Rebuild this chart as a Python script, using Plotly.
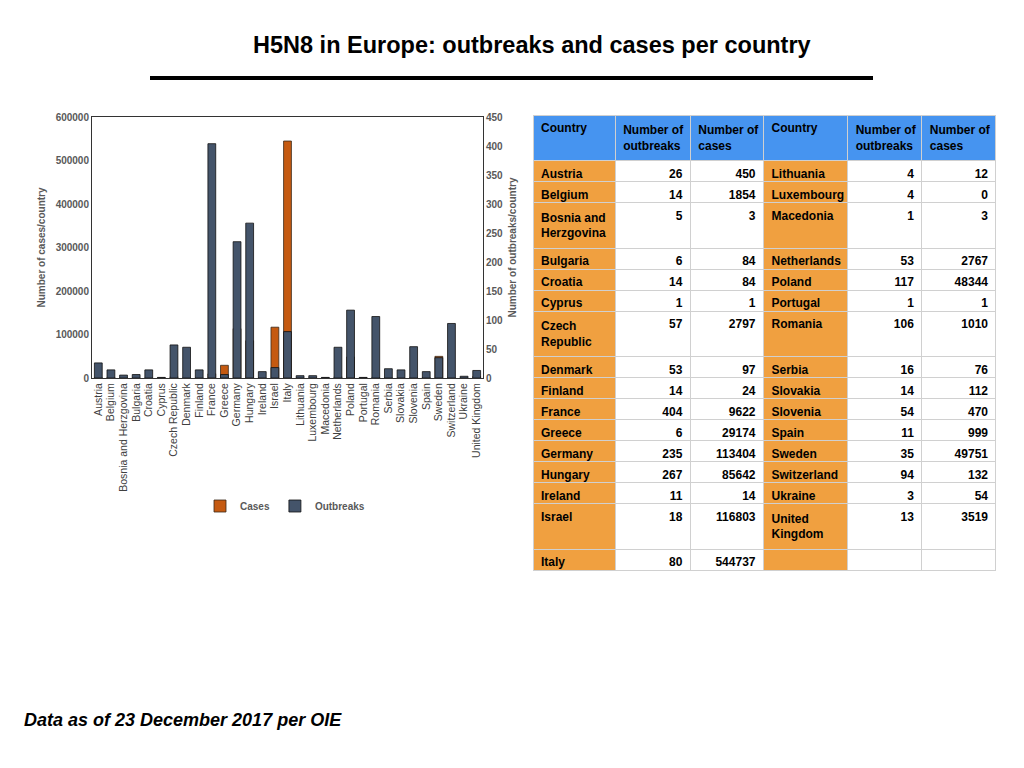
import plotly.graph_objects as go

# data (table on the right gives the exact values)
countries = ["Austria", "Belgium", "Bosnia and Herzgovina", "Bulgaria", "Croatia", "Cyprus",
             "Czech Republic", "Denmark", "Finland", "France", "Greece", "Germany", "Hungary",
             "Ireland", "Israel", "Italy", "Lithuania", "Luxembourg", "Macedonia", "Netherlands",
             "Poland", "Portugal", "Romania", "Serbia", "Slovakia", "Slovenia", "Spain", "Sweden",
             "Switzerland", "Ukraine", "United Kingdom"]
outbreaks = [26, 14, 5, 6, 14, 1, 57, 53, 14, 404, 6, 235, 267, 11, 18, 80,
             4, 4, 1, 53, 117, 1, 106, 16, 14, 54, 11, 35, 94, 3, 13]
cases = [450, 1854, 3, 84, 84, 1, 2797, 97, 24, 9622, 29174, 113404, 85642, 14, 116803, 544737,
         12, 0, 3, 2767, 48344, 1, 1010, 76, 112, 470, 999, 49751, 132, 54, 3519]

# names that wrap onto two lines in the table
wrapped = {"Bosnia and Herzgovina": "Bosnia and<br>Herzgovina",
           "Czech Republic": "Czech<br>Republic",
           "United Kingdom": "United<br>Kingdom"}

FONT = "Liberation Sans, Arial, sans-serif"
CASE_COL = "#C55A11"
OUT_COL = "#44546A"
BLUE = "#4694F0"
ORANGE = "#F0A040"
GREY = "#595959"

# the page puts the figure 8px in from the top left corner
OFF = 8


def px(x):
    return (x - OFF) / 1024


def py(y):
    return 1 - (y - OFF) / 768


fig = go.Figure()

# cases behind, outbreaks on top (secondary axis)
fig.add_trace(go.Bar(x=countries, y=cases, name="Cases", marker_color=CASE_COL,
                     marker_line=dict(color="#3a2a1a", width=0.8), width=0.62,
                     yaxis="y"))
fig.add_trace(go.Bar(x=countries, y=outbreaks, name="Outbreaks", marker_color=OUT_COL,
                     marker_line=dict(color="#111111", width=0.8), width=0.62,
                     yaxis="y2"))

# table: first 16 countries on the left, the rest on the right
half = 16
left_names = [wrapped.get(c, c) for c in countries[:half]]
right_names = [wrapped.get(c, c) for c in countries[half:]] + [""]
left_out = [str(v) for v in outbreaks[:half]]
left_cases = [str(v) for v in cases[:half]]
right_out = [str(v) for v in outbreaks[half:]] + [""]
right_cases = [str(v) for v in cases[half:]] + [""]

n_rows = len(left_names)
fig.add_trace(go.Table(
    domain=dict(x=[px(533), px(996)], y=[0.0, py(115)]),
    columnwidth=[82, 75, 73, 84, 74, 74],
    header=dict(values=["Country", "Number of<br>outbreaks", "Number of<br>cases",
                        "Country", "Number of<br>outbreaks", "Number of<br>cases"],
                fill_color=BLUE, line_color="#D0D0D0", align="left", height=36,
                font=dict(family=FONT, size=12, color="black", weight="bold")),
    cells=dict(values=[left_names, left_out, left_cases, right_names, right_out, right_cases],
               fill_color=[[ORANGE] * n_rows, ["white"] * n_rows, ["white"] * n_rows,
                           [ORANGE] * n_rows, ["white"] * n_rows, ["white"] * n_rows],
               line_color="#D0D0D0", align=["left", "right", "right", "left", "right", "right"],
               height=21, font=dict(family=FONT, size=12, color="black", weight="bold")),
))

fig.update_layout(
    width=1024, height=768,
    margin=dict(l=0, r=0, t=0, b=0),
    paper_bgcolor="white", plot_bgcolor="white",
    font=dict(family=FONT, color=GREY),
    barmode="overlay",
    showlegend=True,
    legend=dict(orientation="h", x=px(285), xanchor="center", y=py(506),
                yanchor="middle", font=dict(size=10, color=GREY, weight="bold"),
                itemwidth=30, traceorder="normal"),
    xaxis=dict(domain=[px(92), px(483)], tickangle=-90, automargin=False, dtick=1,
               tickfont=dict(size=10.5, color="#404040"), showline=True, linecolor="#333333",
               linewidth=1, mirror=True, ticks=""),
    yaxis=dict(domain=[py(378), py(117)], range=[0, 600000], dtick=100000,
               tickformat="d", showgrid=False, zeroline=False, automargin=False,
               showline=True, linecolor="#333333", linewidth=1,
               tickfont=dict(size=10, color=GREY, weight="bold"),
               title=dict(text="Number of cases/country", standoff=8,
                          font=dict(size=10, color=GREY, weight="bold"))),
    yaxis2=dict(overlaying="y", side="right", range=[0, 450], dtick=50, showgrid=False,
                zeroline=False, automargin=False, showline=True, linecolor="#333333",
                linewidth=1, tickfont=dict(size=10, color=GREY, weight="bold"),
                title=dict(text="Number of outbreaks/country", standoff=6,
                           font=dict(size=10, color=GREY, weight="bold"))),
)

# slide title, rule under it and footnote
fig.add_annotation(text="H5N8 in Europe: outbreaks and cases per country", xref="paper",
                   yref="paper", x=px(532), y=py(45), xanchor="center", yanchor="middle",
                   showarrow=False,
                   font=dict(family=FONT, size=23.5, color="black", weight="bold"))
fig.add_shape(type="line", xref="paper", yref="paper", x0=px(150), x1=px(873),
              y0=py(78), y1=py(78), line=dict(color="black", width=4))
fig.add_annotation(text="<i>Data as of 23 December 2017 per OIE</i>", xref="paper",
                   yref="paper", x=px(22), y=py(720), xanchor="left", yanchor="middle",
                   showarrow=False,
                   font=dict(family=FONT, size=18, color="black", weight="bold"))

fig.write_html("out.html")
